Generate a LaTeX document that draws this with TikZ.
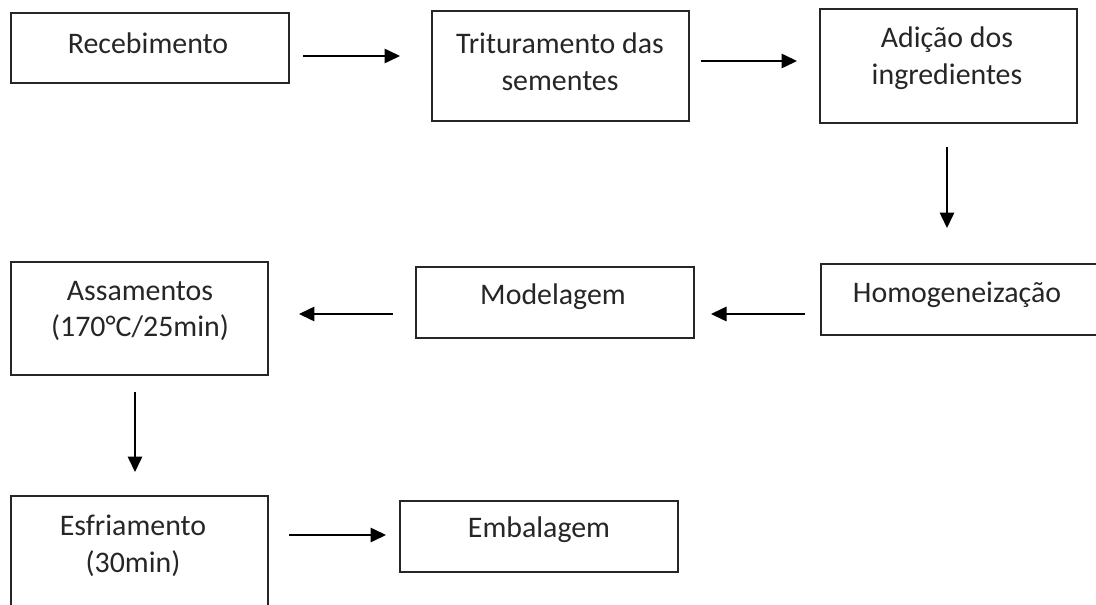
\documentclass[tikz,border=0pt]{standalone}
\usepackage{fontspec}
\setmainfont{Carlito}
\usetikzlibrary{arrows.meta}
\begin{document}
\begin{tikzpicture}[x=0.02cm,y=-0.02cm,
  boxline/.style={draw=black!85,line width=0.8pt},
  lbl/.style={font=\fontsize{17}{21}\selectfont,text=black!85,align=center,inner sep=0pt},
  flow/.style={draw=black,line width=0.9pt,-{Triangle[length=0.31cm,width=0.29cm]}}]
\useasboundingbox (0,0) rectangle (1096,605);
\clip (0,0) rectangle (1096,605);
% boxes
\draw[boxline] (11,13) rectangle (289,83);
\draw[boxline] (432,11) rectangle (689,121);
\draw[boxline] (820,9) rectangle (1077,123);
\draw[boxline] (821,264) rectangle (1110,335);
\draw[boxline] (416,267) rectangle (694,338);
\draw[boxline] (11,262) rectangle (268,375);
\draw[boxline] (11,496) rectangle (268,620);
\draw[boxline] (400,501) rectangle (678,572);
% labels
\node[lbl] (t1) at (148,43) {Recebimento};
\node[lbl] (t2) at (560,62) {Trituramento das\\sementes};
\node[lbl] (t3) at (947,58) {Adição dos\\ingredientes};
\node[lbl] (t4) at (957,295) {Homogeneização};
\node[lbl] (t5) at (553,297) {Modelagem};
\node[lbl] (t6) at (140,311) {Assamentos\\(170°C/25min)};
\node[lbl] (t7) at (133,546) {Esfriamento\\(30min)};
\node[lbl] (t8) at (539,530) {Embalagem};
% arrow end points
\coordinate (a1s) at (303,56);  \coordinate (a1e) at (400,56);
\coordinate (a2s) at (701,61);  \coordinate (a2e) at (797,61);
\coordinate (a3s) at (947,147); \coordinate (a3e) at (947,228);
\coordinate (a4s) at (805,314); \coordinate (a4e) at (711,314);
\coordinate (a5s) at (393,314); \coordinate (a5e) at (299,314);
\coordinate (a6s) at (135,392); \coordinate (a6e) at (135,472);
\coordinate (a7s) at (289,535); \coordinate (a7e) at (386,535);
\draw[flow] (a1s) -- (a1e);
\draw[flow] (a2s) -- (a2e);
\draw[flow] (a3s) -- (a3e);
\draw[flow] (a4s) -- (a4e);
\draw[flow] (a5s) -- (a5e);
\draw[flow] (a6s) -- (a6e);
\draw[flow] (a7s) -- (a7e);
\end{tikzpicture}
\end{document}
